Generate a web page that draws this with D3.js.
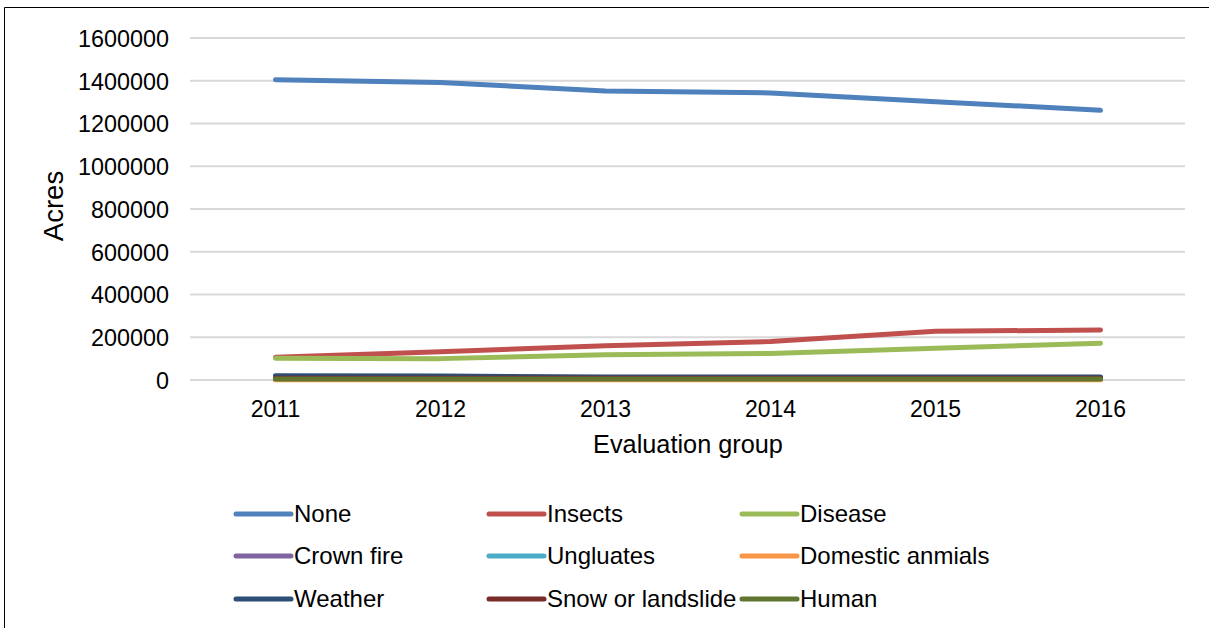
<!DOCTYPE html>
<html><head><meta charset="utf-8">
<script src="https://cdn.jsdelivr.net/npm/d3@7/dist/d3.min.js"></script>
<style>body{margin:0;background:#fff;} text{font-family:"Liberation Sans",Arial,sans-serif;}</style>
</head><body><svg id="c" width="1209" height="628"></svg>
<script>
const categories = ["2011","2012","2013","2014","2015","2016"];
const seriesNames = ["None","Insects","Disease","Crown fire","Ungluates","Domestic anmials","Weather","Snow or landslide","Human"];
const seriesColors = ["#4f81bd","#c0504d","#9bbb59","#8064a2","#4bacc6","#f79646","#2c4d75","#772c2a","#5f7530"];
const noneVals = [1405000,1392000,1352000,1343000,1302000,1262000];
const insectsVals = [106000,132000,160000,180000,228000,234000];
const diseaseVals = [102000,100000,118000,124000,148000,172000];
const crownFireVals = [3000,3000,3000,3000,3000,3000];
const ungluatesVals = [2000,2000,2000,2000,2000,2000];
const domesticVals = [1000,1000,1000,1000,1000,1000];
const weatherVals = [20000,19000,14000,14000,14000,14000];
const snowVals = [8000,8000,8000,8000,8000,8000];
const humanVals = [5000,5000,5000,5000,5000,5000];
const yTicks = [0,200000,400000,600000,800000,1000000,1200000,1400000,1600000];

const allVals = [noneVals,insectsVals,diseaseVals,crownFireVals,ungluatesVals,domesticVals,weatherVals,snowVals,humanVals];
const series = seriesNames.map((n,i)=>({name:n,color:seriesColors[i],values:allVals[i]}));

const svg = d3.select("#c");
svg.append("path").attr("d","M4.5,628 L4.5,7.5 L1209,7.5").attr("fill","none").attr("stroke","#000").attr("stroke-width",1);

const x = d3.scaleBand().domain(categories).range([193,1183]);
const y = d3.scaleLinear().domain([0,1600000]).range([380,38]);

svg.append("g").selectAll("line").data(yTicks).join("line")
  .attr("x1",190).attr("x2",1185).attr("y1",d=>y(d)).attr("y2",d=>y(d))
  .attr("stroke","#d9d9d9").attr("stroke-width",2);

const yAxis = d3.axisLeft(y).tickValues(yTicks).tickSize(0).tickPadding(0).tickFormat(d3.format("d"));
const ya = svg.append("g").attr("transform","translate(169,0)").call(yAxis);
ya.select(".domain").remove();
ya.selectAll("text").attr("font-size",23.4).attr("fill","#000").attr("dy","0.36em").attr("font-family","Liberation Sans, Arial, sans-serif");

const xAxis = d3.axisBottom(x).tickSize(0).tickPadding(0);
const xa = svg.append("g").call(xAxis);
xa.select(".domain").remove();
xa.selectAll("text").attr("y",417).attr("dy",0).attr("font-size",23).attr("fill","#000").attr("font-family","Liberation Sans, Arial, sans-serif");

svg.append("text").attr("x",688).attr("y",453).attr("text-anchor","middle").attr("font-size",25.3).text("Evaluation group");
svg.append("text").attr("transform","translate(63,206) rotate(-90)").attr("text-anchor","middle").attr("font-size",27.5).text("Acres");

const line = d3.line().x((d,i)=>x(categories[i])+x.bandwidth()/2).y(d=>y(d));
svg.append("g").selectAll("path").data(series).join("path")
  .attr("d",d=>line(d.values)).attr("fill","none").attr("stroke",d=>d.color)
  .attr("stroke-width",5).attr("stroke-linecap","round").attr("stroke-linejoin","round");

const colX = [236,489,742];
const rowY = [514,556,599];
const lg = svg.append("g").selectAll("g").data(series).join("g")
  .attr("transform",(d,i)=>`translate(${colX[i%3]},${rowY[Math.floor(i/3)]})`);
lg.append("line").attr("x1",0).attr("x2",55).attr("y1",0).attr("y2",0)
  .attr("stroke",d=>d.color).attr("stroke-width",5).attr("stroke-linecap","round");
lg.append("text").attr("x",58).attr("y",7.5).attr("font-size",24).text(d=>d.name);
</script></body></html>
